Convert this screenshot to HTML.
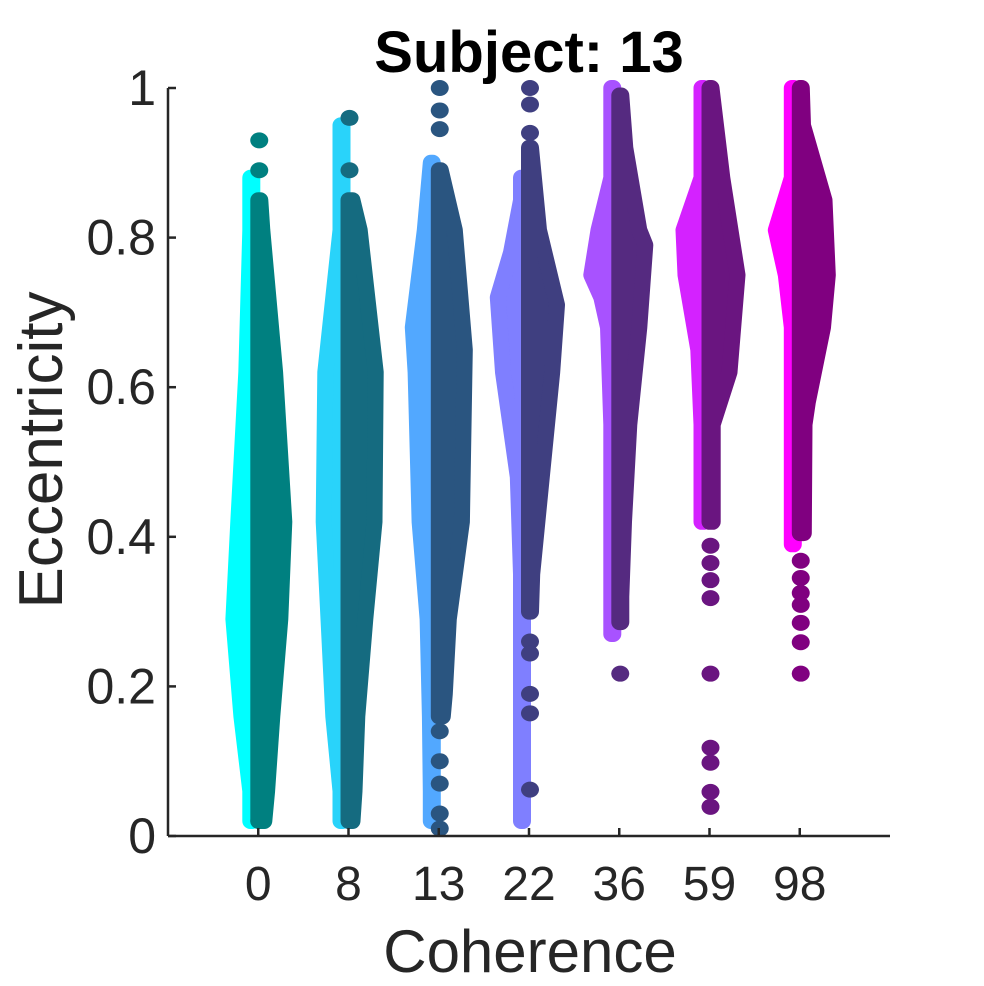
<!DOCTYPE html>
<html><head><meta charset="utf-8"><style>
html,body{margin:0;padding:0;background:#fff;}
svg{display:block;font-family:"Liberation Sans",Arial,sans-serif;}
</style></head><body>
<svg id="chart" width="984" height="986" viewBox="0 0 984 986" xmlns="http://www.w3.org/2000/svg">
<rect x="0" y="0" width="984" height="986" fill="#fff"/>
<text x="529" y="72" text-anchor="middle" font-size="58" font-weight="bold" fill="#000">Subject: 13</text>
<g id="plot"></g>
<g id="axes"></g>
<text x="530" y="972" text-anchor="middle" font-size="60" fill="#262626">Coherence</text>
<text transform="translate(62,450) rotate(-90)" text-anchor="middle" font-size="62" fill="#262626">Eccentricity</text>
</svg>
<script>
const categories = ["0","8","13","22","36","59","98"];
const yTicks = [0,0.2,0.4,0.6,0.8,1];
const yTickLabels = ["0","0.2","0.4","0.6","0.8","1"];
const lightColors = ["#00FFFF","#29D3FA","#52A8FF","#7F7FFF","#A852FF","#D422FF","#FF00FF"];
const darkColors = ["#008080","#156B80","#2A5580","#3F3F80","#552A80","#6A1580","#800080"];
// half-violin profiles: eccentricity levels and relative spread (1 = 40 px)
const lightLevels = [
 [0.02,0.06,0.16,0.29,0.42,0.62,0.81,0.88],
 [0.02,0.06,0.16,0.29,0.42,0.62,0.81,0.95],
 [0.02,0.06,0.16,0.29,0.42,0.62,0.68,0.81,0.90],
 [0.02,0.06,0.30,0.35,0.48,0.62,0.72,0.78,0.85,0.88],
 [0.27,0.42,0.55,0.68,0.72,0.75,0.81,0.88,1.0],
 [0.42,0.55,0.65,0.75,0.81,0.88,1.0],
 [0.39,0.55,0.68,0.75,0.81,0.88,0.95,1.0]
];
const lightSpread = [
 [0.2,0.38,0.62,0.82,0.7,0.5,0.28,0.2],
 [0.2,0.32,0.58,0.7,0.82,0.78,0.4,0.2],
 [0.2,0.22,0.42,0.48,0.68,0.78,0.85,0.55,0.2],
 [0.22,0.22,0.25,0.3,0.48,0.85,0.98,0.65,0.4,0.2],
 [0.25,0.25,0.28,0.48,0.65,0.9,0.72,0.4,0.2],
 [0.22,0.22,0.48,0.8,0.85,0.3,0.22],
 [0.2,0.18,0.3,0.55,0.8,0.3,0.22,0.2]
];
const darkLevels = [
 [0.02,0.06,0.16,0.29,0.42,0.62,0.81,0.85],
 [0.02,0.06,0.16,0.29,0.42,0.62,0.81,0.85],
 [0.16,0.19,0.29,0.42,0.65,0.81,0.89],
 [0.30,0.35,0.48,0.62,0.71,0.81,0.92],
 [0.286,0.32,0.42,0.55,0.68,0.79,0.81,0.92,0.99],
 [0.42,0.55,0.62,0.75,0.88,1.0],
 [0.405,0.55,0.58,0.68,0.75,0.85,0.95,1.0]
];
const darkSpread = [
 [0.35,0.42,0.55,0.75,0.85,0.62,0.3,0.25],
 [0.3,0.35,0.42,0.62,0.85,0.88,0.48,0.3],
 [0.3,0.35,0.45,0.78,0.85,0.6,0.25],
 [0.25,0.28,0.52,0.78,0.9,0.45,0.25],
 [0.25,0.25,0.32,0.45,0.7,0.85,0.7,0.35,0.25],
 [0.28,0.28,0.7,0.9,0.52,0.25],
 [0.3,0.32,0.4,0.78,0.9,0.82,0.28,0.25]
];
const darkOutliers = [
 [0.93,0.89,0.02],
 [0.96,0.89],
 [1.0,0.97,0.945,0.14,0.10,0.07,0.03,0.01],
 [1.0,0.978,0.94,0.26,0.244,0.19,0.164,0.062],
 [0.217],
 [0.388,0.365,0.342,0.318,0.217,0.118,0.098,0.059,0.039],
 [0.368,0.345,0.325,0.309,0.285,0.259,0.217]
];

const NS="http://www.w3.org/2000/svg";
const X0=168,X1=890,Y0=836,Y1=88;
function xScale(i){return X0+(i+1)*(X1-X0)/8;}
function yScale(v){return Y0-v*(Y0-Y1);}
const R=8, UNIT=40;
const plot=document.getElementById('plot');
const axes=document.getElementById('axes');
function mk(tag,attrs,parent){const e=document.createElementNS(NS,tag);for(const k in attrs)e.setAttribute(k,attrs[k]);parent.appendChild(e);return e;}

categories.forEach((c,i)=>{
  const t=xScale(i);
  const lv=lightLevels[i], ls=lightSpread[i];
  let pts=[];
  for(let k=0;k<lv.length;k++){const w=ls[k]*UNIT;pts.push([Math.min(t-R,t-w+R),yScale(lv[k])]);}
  for(let k=lv.length-1;k>=0;k--){pts.push([t-R+2,yScale(lv[k])]);}
  const lp=mk('polygon',{points:pts.map(p=>p[0].toFixed(1)+','+p[1].toFixed(1)).join(' '),fill:lightColors[i],stroke:lightColors[i],'stroke-width':2*R,'stroke-linejoin':'round'},plot);
  
  
  const dv=darkLevels[i], ds=darkSpread[i];
  pts=[];
  for(let k=0;k<dv.length;k++){const w=ds[k]*UNIT;pts.push([Math.max(t+1,t+w-R),yScale(dv[k])]);}
  for(let k=dv.length-1;k>=0;k--){pts.push([t,yScale(dv[k])]);}
  const dp=mk('polygon',{points:pts.map(p=>p[0].toFixed(1)+','+p[1].toFixed(1)).join(' '),fill:darkColors[i],stroke:darkColors[i],'stroke-width':2*R,'stroke-linejoin':'round'},plot);
  
  
  darkOutliers[i].forEach(v=>{
    const o=mk('ellipse',{cx:t+1,cy:yScale(v),rx:R+1,ry:R,fill:darkColors[i]},plot);
    
    
  });
  const tk=mk('line',{x1:t,x2:t,y1:Y0,y2:Y0-8,stroke:'#262626','stroke-width':2.5},axes);
  
  
  const tl=mk('text',{x:t,y:900,'text-anchor':'middle','font-size':48,fill:'#262626'},axes);
  tl.textContent=c;
  
  
});
yTicks.forEach((v,k)=>{
  const y=yScale(v);
  const tk=mk('line',{x1:X0,x2:X0+8,y1:y,y2:y,stroke:'#262626','stroke-width':2.5},axes);
  
  
  const tl=mk('text',{x:156,y:y+17,'text-anchor':'end','font-size':50,fill:'#262626'},axes);
  tl.textContent=yTickLabels[k];
  
  
});
const xa=mk('line',{x1:X0,x2:X1,y1:Y0,y2:Y0,stroke:'#262626','stroke-width':2.5},axes);


const ya=mk('line',{x1:X0,x2:X0,y1:Y0,y2:Y1,stroke:'#262626','stroke-width':2.5},axes);


</script>
</body></html>
